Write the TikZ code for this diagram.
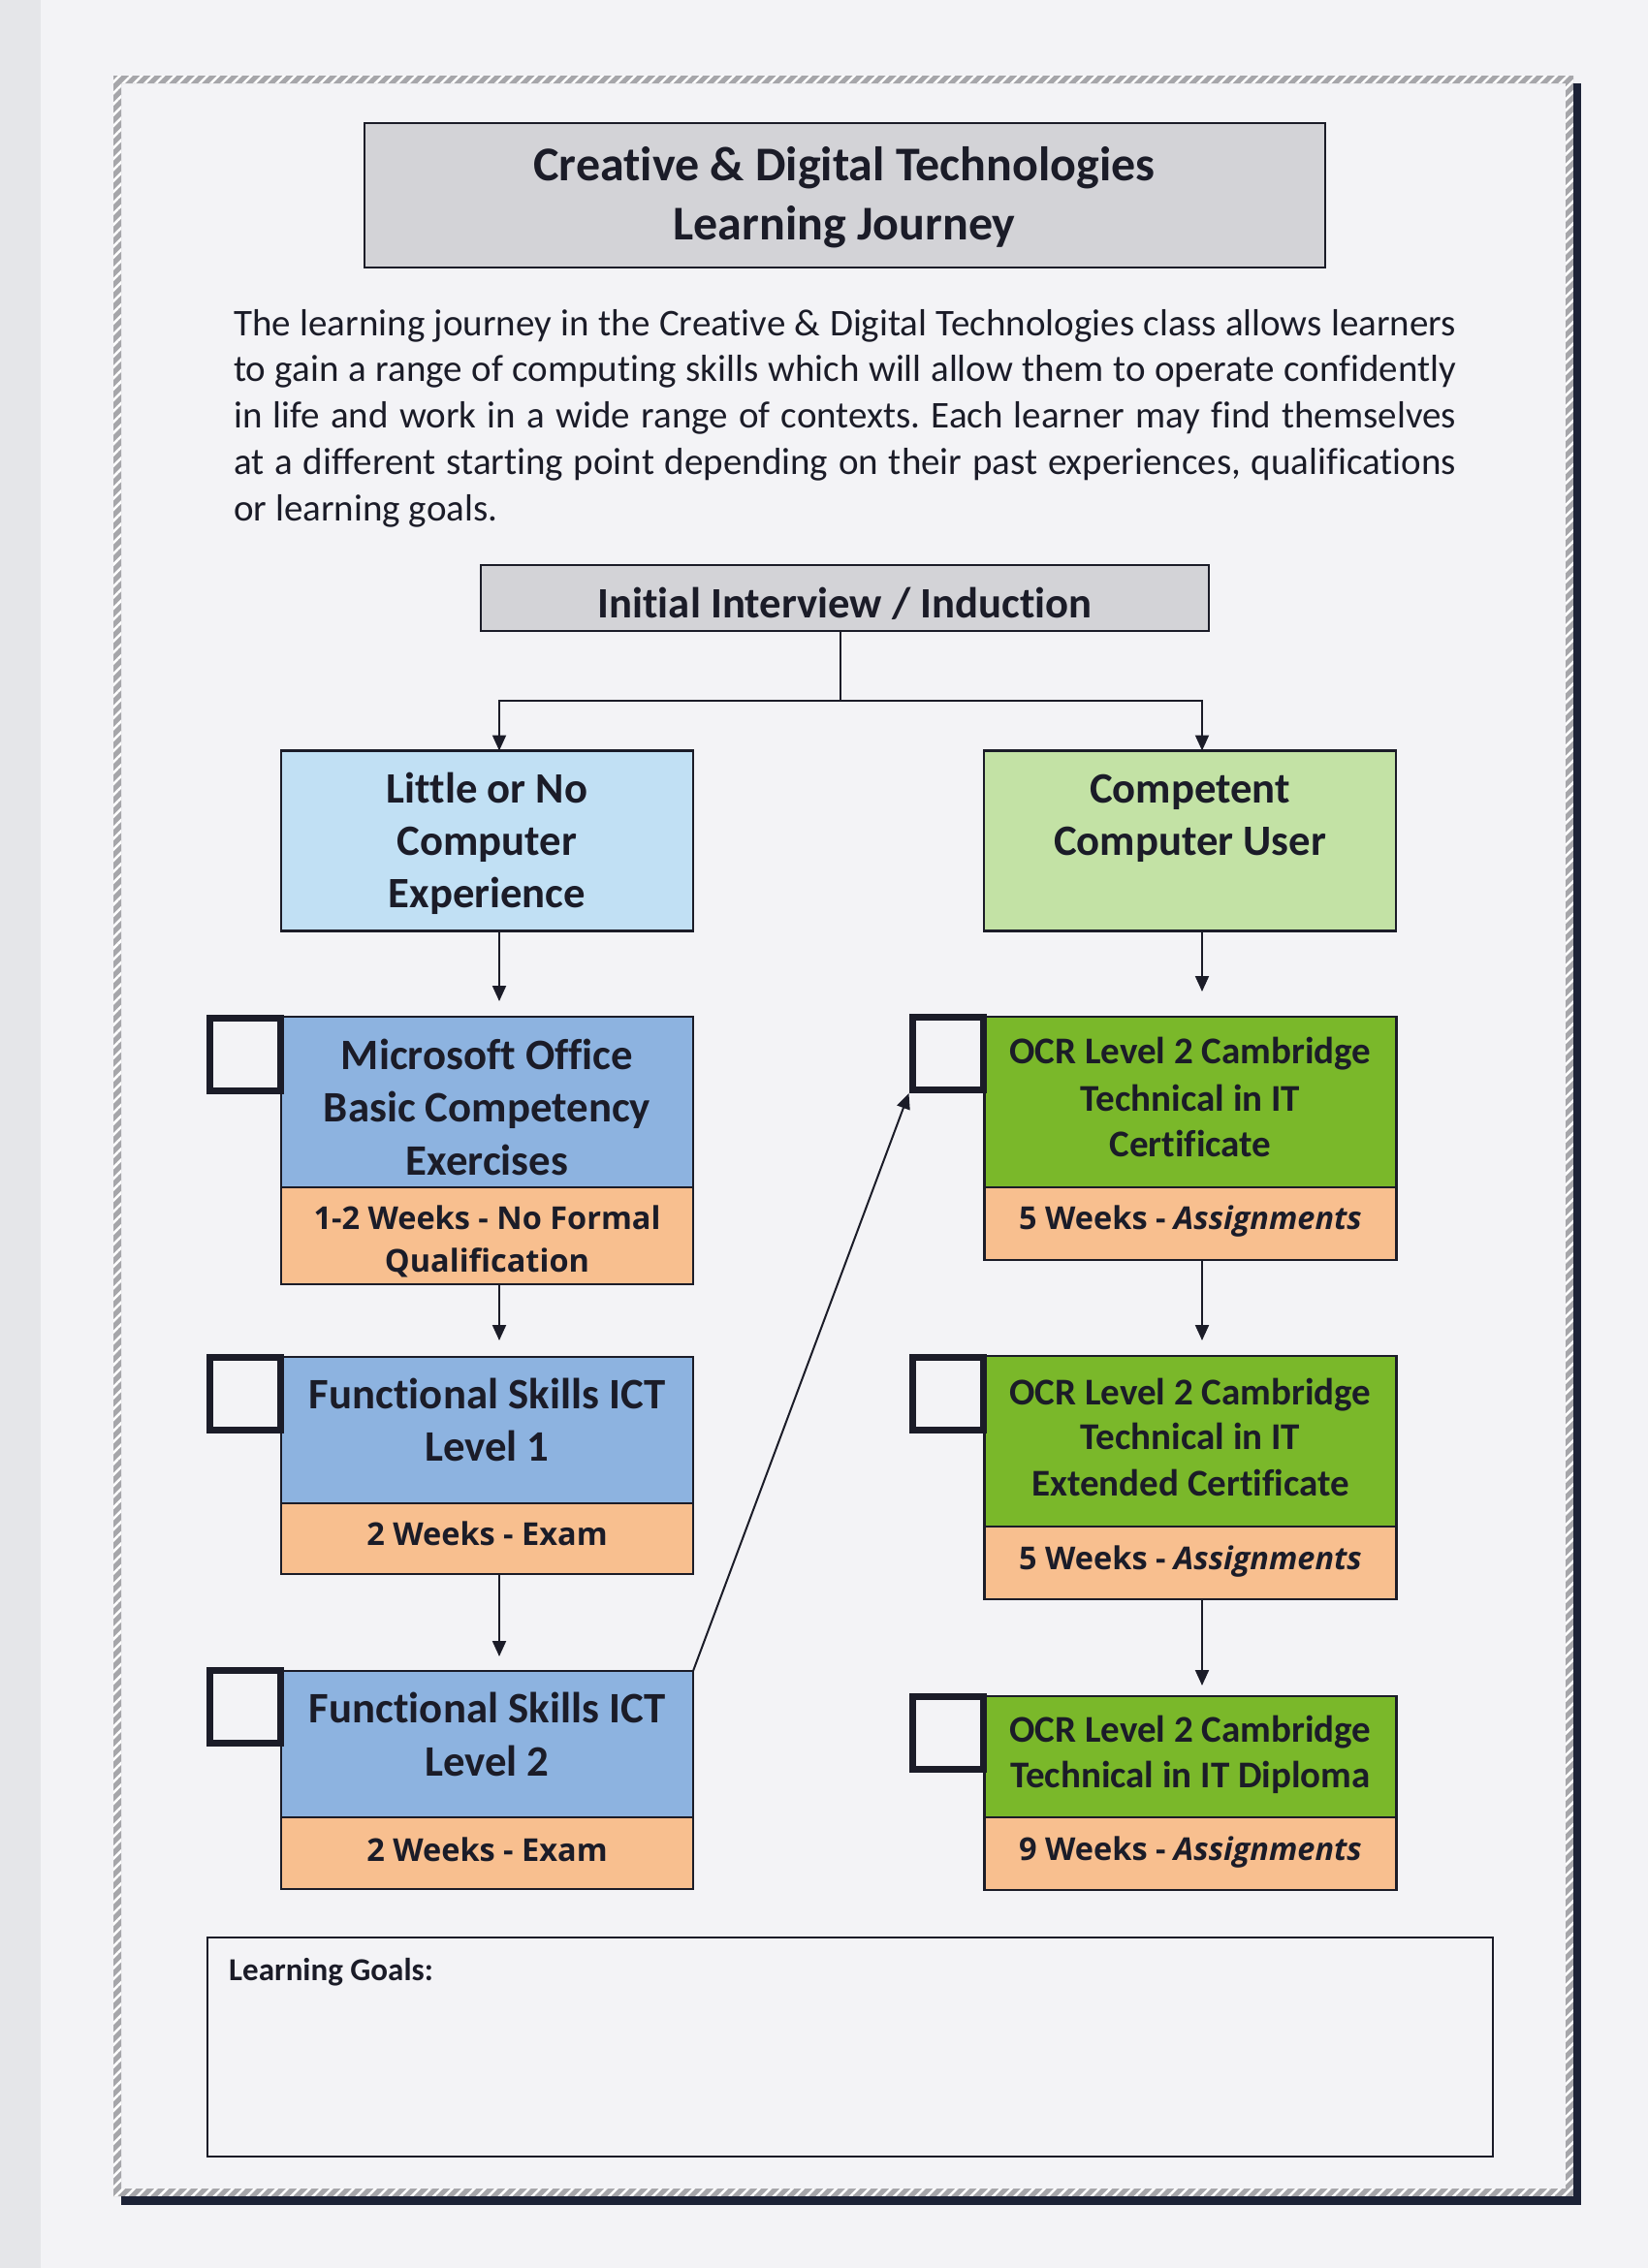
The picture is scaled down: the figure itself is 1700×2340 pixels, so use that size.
\documentclass[tikz,border=0pt]{standalone}
\usepackage{fontspec}
\setmainfont{Carlito}[Ligatures=NoCommon]
\newfontfamily\comicf{Open Sans}
\usetikzlibrary{arrows.meta,patterns.meta}
\frenchspacing
\definecolor{paper}{HTML}{F3F3F6}
\definecolor{strip}{HTML}{E5E6E9}
\definecolor{ink}{HTML}{1B1C28}
\definecolor{titlegray}{HTML}{D3D3D7}
\definecolor{skyblue}{HTML}{C1E0F4}
\definecolor{palegreen}{HTML}{C3E2A5}
\definecolor{midblue}{HTML}{8DB3E0}
\definecolor{brightgreen}{HTML}{7AB82A}
\definecolor{peach}{HTML}{F8BF8F}
\definecolor{framegray}{HTML}{A6A6AA}
\definecolor{shadowc}{HTML}{1C2236}
\begin{document}
\begin{tikzpicture}[x=1pt,y=-1pt,
  box/.style={draw=ink, line width=2.5pt, minimum width=425pt, inner sep=0pt, outer sep=0pt},
  chk/.style={draw=ink, fill=paper, line width=7pt, minimum width=73pt, minimum height=75pt, inner sep=0pt},
  conn/.style={draw=ink, line width=2pt},
  arr/.style={conn, -{Triangle[length=16pt,width=14pt]}},
  ttl/.style={anchor=base, inner sep=0pt, text=ink, font=\bfseries\fontsize{50}{60}\selectfont},
  hdA/.style={anchor=base, inner sep=0pt, text=ink, font=\bfseries\fontsize{44.7}{52}\selectfont},
  hdB/.style={anchor=base, inner sep=0pt, text=ink, font=\bfseries\fontsize{44.8}{52}\selectfont},
  hdC/.style={anchor=base, inner sep=0pt, text=ink, font=\bfseries\fontsize{39}{46}\selectfont},
  dur/.style={anchor=base, inner sep=0pt, text=ink, font=\comicf\bfseries\fontsize{32.5}{38}\selectfont},
  para/.style={anchor=base west, inner sep=0pt, text=ink, font=\fontsize{39}{47.8}\selectfont},
]
\useasboundingbox (0,0) rectangle (1700,2340);
% paper
\fill[strip] (0,0) rectangle (1700,2340);
\fill[paper] (42,0) rectangle (1700,2340);
% hatched frame and shadow
\fill[framegray, even odd rule] (117,78) rectangle (1623,2266) (125,86) rectangle (1615,2258);
\fill[pattern={Lines[angle=45,distance=8pt,line width=2.5pt]}, pattern color=white, even odd rule] (117,78) rectangle (1623,2266) (125,86) rectangle (1615,2258);
\fill[shadowc] (1623,86) rectangle (1631,2275);
\fill[shadowc] (125,2266) rectangle (1631,2275);

% title
\node[box, fill=titlegray, minimum width=991pt, minimum height=149pt] (title) at (871.5,201.5) {};
\node[ttl] (titleA) at (871,186) {Creative \& Digital Technologies};
\node[ttl] (titleB) at (871,247) {Learning Journey};

% paragraph
\node[para] (p1) at (241,346) {\makebox[1261pt][s]{The learning journey in the Creative \& Digital Technologies class allows learners}};
\node[para] (p2) at (241,393.8) {\makebox[1261pt][s]{to gain a range of computing skills which will allow them to operate confidently}};
\node[para] (p3) at (241,441.6) {\makebox[1261pt][s]{in life and work in a wide range of contexts. Each learner may find themselves}};
\node[para] (p4) at (241,489.4) {\makebox[1261pt][s]{at a different starting point depending on their past experiences, qualifications}};
\node[para] (p5) at (241,537.2) {or learning goals.};

% interview
\node[box, fill=titlegray, minimum width=751pt, minimum height=68pt] (iv) at (871.5,617) {};
\node[hdA] (ivt) at (871.5,637) {Initial Interview / Induction};

% entry boxes
\node[box, fill=skyblue, minimum height=186pt] (little) at (502.5,867.5) {};
\node[hdA] (lt1) at (502.5,828) {Little or No};
\node[hdA] (lt2) at (502.5,882) {Computer};
\node[hdA] (lt3) at (502.5,936) {Experience};
\node[box, fill=palegreen, minimum height=186pt] (comp) at (1227.5,867.5) {};
\node[hdA] (ct1) at (1227.5,828) {Competent};
\node[hdA] (ct2) at (1227.5,882) {Computer User};

% left column
\node[box, fill=midblue, minimum height=176pt] (msb) at (502.5,1137) {};
\node[box, fill=peach, minimum height=100pt] (mso) at (502.5,1275) {};
\node[hdB] (ms1) at (502.5,1103) {Microsoft Office};
\node[hdB] (ms2) at (502.5,1157) {Basic Competency};
\node[hdB] (ms3) at (502.5,1212) {Exercises};
\node[dur] (ms4) at (502.5,1268) {1-2 Weeks - No Formal};
\node[dur] (ms5) at (502.5,1312) {Qualification};

\node[box, fill=midblue, minimum height=151pt] (fs1b) at (502.5,1475.5) {};
\node[box, fill=peach, minimum height=73pt] (fs1o) at (502.5,1587.5) {};
\node[hdB] (f11) at (502.5,1453) {Functional Skills ICT};
\node[hdB] (f12) at (502.5,1507) {Level 1};
\node[dur] (f13) at (502.5,1594) {2 Weeks - Exam};

\node[box, fill=midblue, minimum height=151pt] (fs2b) at (502.5,1799.5) {};
\node[box, fill=peach, minimum height=74pt] (fs2o) at (502.5,1912) {};
\node[hdB] (f21) at (502.5,1777) {Functional Skills ICT};
\node[hdB] (f22) at (502.5,1832) {Level 2};
\node[dur] (f23) at (502.5,1920) {2 Weeks - Exam};

% right column
\node[box, fill=brightgreen, minimum height=176pt] (o1b) at (1228,1137) {};
\node[box, fill=peach, minimum height=75pt] (o1o) at (1228,1262.5) {};
\node[hdC] (o11) at (1228,1097) {OCR Level 2 Cambridge};
\node[hdC] (o12) at (1228,1146) {Technical in IT};
\node[hdC] (o13) at (1228,1193) {Certificate};
\node[dur] (o14) at (1228,1268) {5 Weeks - \textit{Assignments}};

\node[box, fill=brightgreen, minimum height=176pt] (o2b) at (1228,1487) {};
\node[box, fill=peach, minimum height=75pt] (o2o) at (1228,1612.5) {};
\node[hdC] (o21) at (1228,1449) {OCR Level 2 Cambridge};
\node[hdC] (o22) at (1228,1495) {Technical in IT};
\node[hdC] (o23) at (1228,1543) {Extended Certificate};
\node[dur] (o24) at (1228,1619) {5 Weeks - \textit{Assignments}};

\node[box, fill=brightgreen, minimum height=125pt] (o3b) at (1228,1812.5) {};
\node[box, fill=peach, minimum height=75pt] (o3o) at (1228,1912.5) {};
\node[hdC] (o31) at (1228,1797) {OCR Level 2 Cambridge};
\node[hdC] (o32) at (1228,1844) {Technical in IT Diploma};
\node[dur] (o33) at (1228,1919) {9 Weeks - \textit{Assignments}};

% checkboxes
\node[chk] (c1) at (253,1088) {};
\node[chk] (c2) at (253,1438) {};
\node[chk] (c3) at (253,1761) {};
\node[chk] (c4) at (977.5,1087) {};
\node[chk] (c5) at (977.5,1438) {};
\node[chk] (c6) at (977.5,1787.5) {};

% connectors
\coordinate (jn) at (867,723);
\coordinate (jl) at (515,723);
\coordinate (jr) at (1240,723);
\draw[conn] (jn |- iv.south) -- (jn);
\draw[arr] (jn) -- (jl) -- (jl |- little.north);
\draw[arr] (jn) -- (jr) -- (jr |- comp.north);
\draw[arr, shorten >=16pt] (jl |- little.south) -- (jl |- msb.north);
\draw[arr, shorten >=17pt] (jl |- mso.south) -- (jl |- fs1b.north);
\draw[arr, shorten >=15pt] (jl |- fs1o.south) -- (jl |- fs2b.north);
\draw[arr, shorten >=26pt] (jr |- comp.south) -- (jr |- o1b.north);
\draw[arr, shorten >=16pt] (jr |- o1o.south) -- (jr |- o2b.north);
\draw[arr, shorten >=11pt] (jr |- o2o.south) -- (jr |- o3b.north);
\draw[arr] (fs2b.north east) -- (c4.south west);

% learning goals
\node[draw=ink, line width=2.4pt, minimum width=1326pt, minimum height=226pt, inner sep=0pt] (goals) at (877,2112) {};
\node[anchor=base west, inner sep=0pt, text=ink, font=\bfseries\fontsize{33}{38}\selectfont] (goalst) at (236,2043) {Learning Goals:};
\end{tikzpicture}
\end{document}
